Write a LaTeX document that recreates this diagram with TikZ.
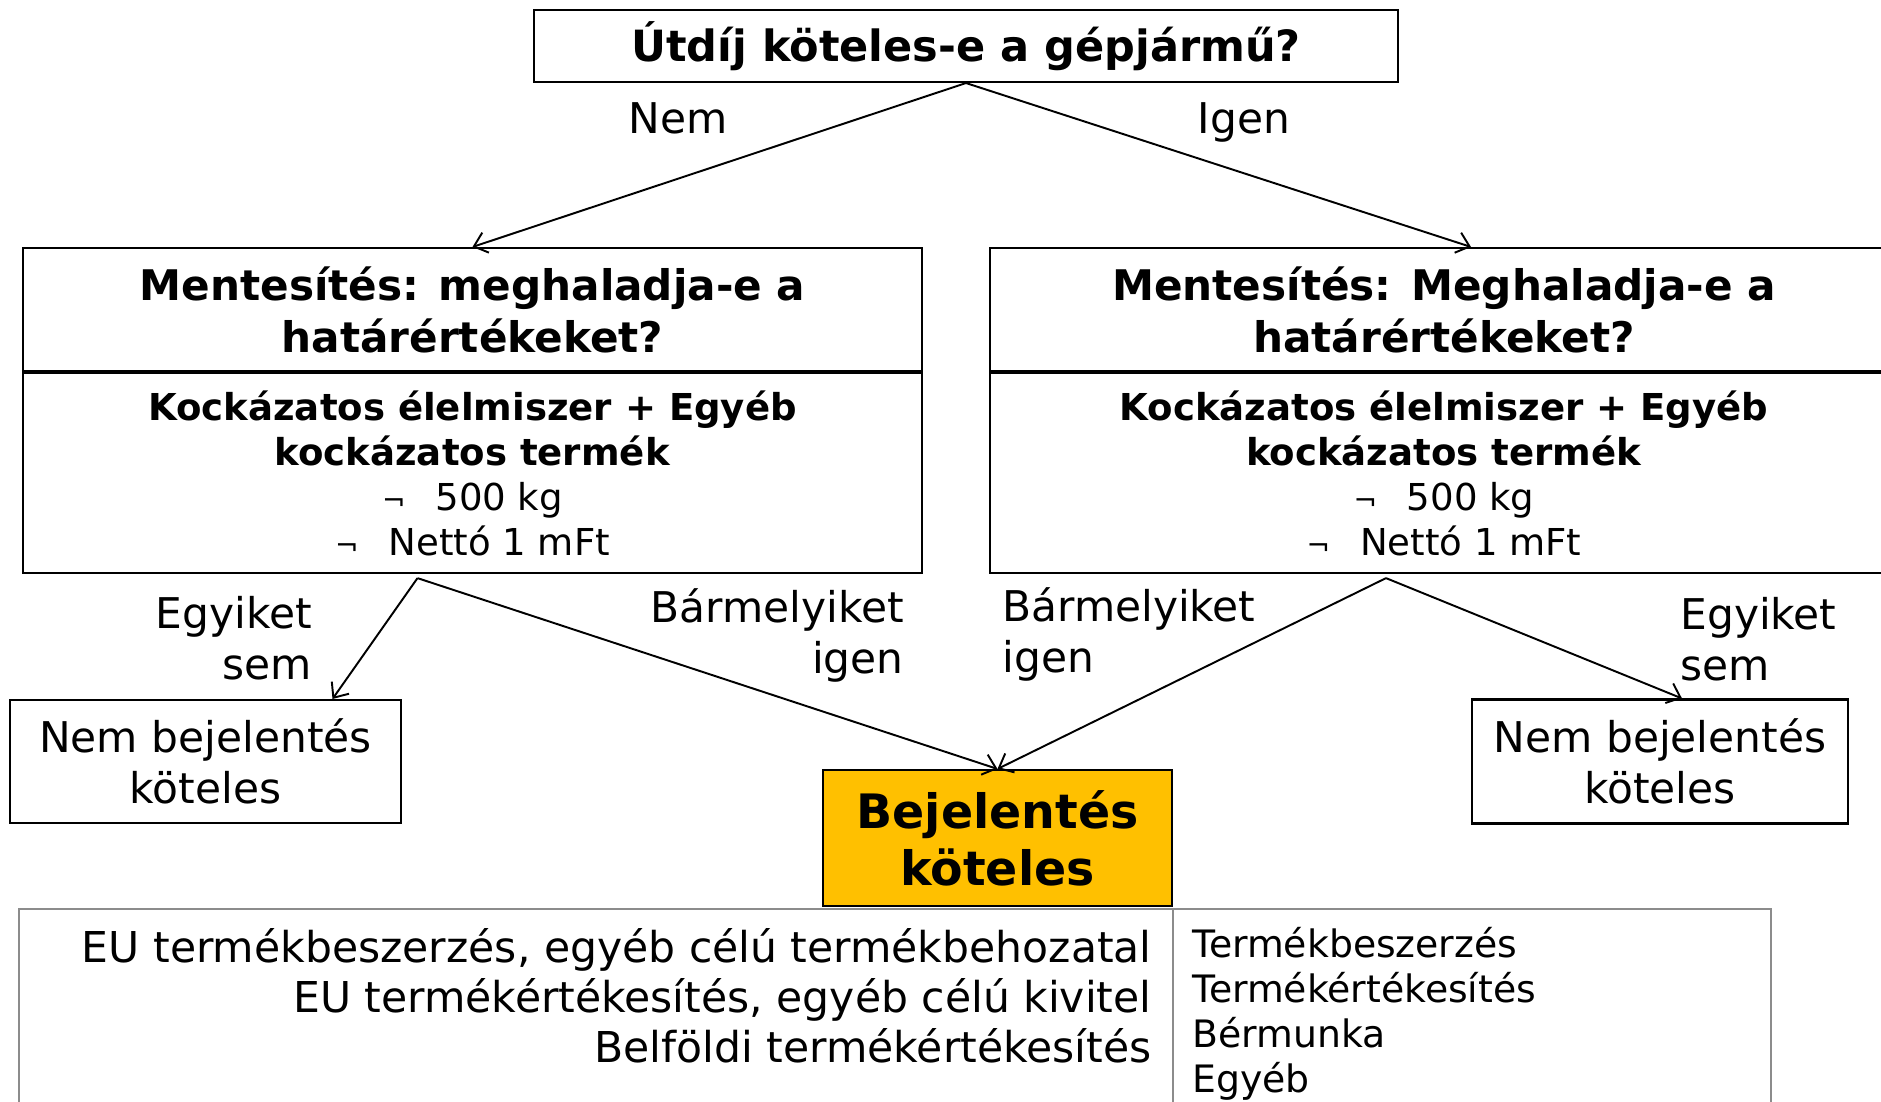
\documentclass[tikz,border=0pt]{standalone}
\usepackage{fontspec}
\setmainfont{DejaVu Sans}
\usetikzlibrary{positioning,calc,arrows.meta}
\definecolor{narancs}{HTML}{FFC000}
\definecolor{cellakeret}{HTML}{8C8C8C}
\newcommand\jel{{\fontsize{16}{16}\selectfont ¬}\hspace{17pt}}

\begin{document}
\begin{tikzpicture}[
			x=0.02cm,y=-0.02cm,
			doboz/.style={draw,line width=1.2pt,align=center,inner sep=0pt},
			cim/.style={font=\bfseries\fontsize{24}{29.6}\selectfont},
			kisszoveg/.style={font=\fontsize{21.1}{25.6}\selectfont},
			szoveg/.style={font=\fontsize{24.1}{29}\selectfont,inner sep=0pt},
			nyil/.style={line width=1.1pt,-{Straight Barb[length=7pt,width=12pt]}},
			cella/.style={draw=cellakeret,line width=1pt,inner sep=0pt,anchor=north west}
		]
		\useasboundingbox (0,0) rectangle (1881,1102);
		\node[doboz,cim,font=\bfseries\fontsize{24.5}{29.6}\selectfont,minimum width=17.3cm,minimum height=1.44cm] (kerdes) at (966,46) {Útdíj köteles-e a gépjármű?};
		\node[doboz,cim,minimum width=17.98cm,minimum height=2.46cm] (mentbal) at (472.5,309.5) {Mentesítés: meghaladja-e a\\határértékeket?};
		\node[doboz,kisszoveg,minimum width=17.98cm,minimum height=4cm,below=0pt of mentbal] (kockbal) {\textbf{Kockázatos élelmiszer + Egyéb}\\\textbf{kockázatos termék}\\\jel 500 kg\\\jel Nettó 1 mFt};
		\node[doboz,cim,minimum width=18.16cm,minimum height=2.46cm] (mentjobb) at (1444,309.5) {Mentesítés: Meghaladja-e a\\határértékeket?};
		\node[doboz,kisszoveg,minimum width=18.16cm,minimum height=4cm,below=0pt of mentjobb] (kockjobb) {\textbf{Kockázatos élelmiszer + Egyéb}\\\textbf{kockázatos termék}\\\jel 500 kg\\\jel Nettó 1 mFt};
		\node[doboz,szoveg,minimum width=7.82cm,minimum height=2.46cm] (nembal) at (205.5,761.5) {Nem bejelentés\\köteles};
		\node[doboz,szoveg,minimum width=7.52cm,minimum height=2.48cm] (nemjobb) at (1660,761.5) {Nem bejelentés\\köteles};
		\node[cella,minimum width=23.08cm,minimum height=4.2cm] (tablabal) at (18,908) {};
		\node[cella,minimum width=11.96cm,minimum height=4.2cm] (tablajobb) at (1172,908) {};
		\node[doboz,fill=narancs,font=\bfseries\fontsize{27}{32.4}\selectfont,minimum width=6.98cm,minimum height=2.72cm] (bejel) at (997.5,838) {Bejelentés\\köteles};
		\node[szoveg,align=right,anchor=north east,font=\fontsize{24.2}{28.5}\selectfont] (felsorbal) at (1152,928) {EU termékbeszerzés, egyéb célú termékbehozatal\\EU termékértékesítés, egyéb célú kivitel\\Belföldi termékértékesítés};
		\node[font=\fontsize{21.5}{25.6}\selectfont,inner sep=0pt,align=left,anchor=north west] (felsorjobb) at (1192,927) {Termékbeszerzés\\Termékértékesítés\\Bérmunka\\Egyéb};
		\node[szoveg,anchor=base] (nem) at (678,133) {Nem};
		\node[szoveg,anchor=base] (igen) at (1244,133) {Igen};
		\node[szoveg,align=right,anchor=east] (egyikbal) at (312,638) {Egyiket\\sem};
		\node[szoveg,align=right,anchor=east] (barmbal) at (904,635) {Bármelyiket\\igen};
		\node[szoveg,align=left,anchor=west] (barmjobb) at (1002,634) {Bármelyiket\\igen};
		\node[szoveg,align=left,anchor=west] (egyikjobb) at (1680,639) {Egyiket\\sem};
		\coordinate (forrasbal) at ($(kockbal.south)+(-55,4)$);
		\coordinate (forrasjobb) at ($(kockjobb.south)+(-58,4)$);
		\draw[nyil] (kerdes.south) -- (mentbal.north);
		\draw[nyil] (kerdes.south) -- ($(mentjobb.north)+(27,0)$);
		\draw[nyil] (forrasbal) -- ($(nembal.north)+(127,0)$);
		\draw[nyil] (forrasbal) -- (bejel.north);
		\draw[nyil] (forrasjobb) -- (bejel.north);
		\draw[nyil] (forrasjobb) -- ($(nemjobb.north)+(22,0)$);
	\end{tikzpicture}
\end{document}
